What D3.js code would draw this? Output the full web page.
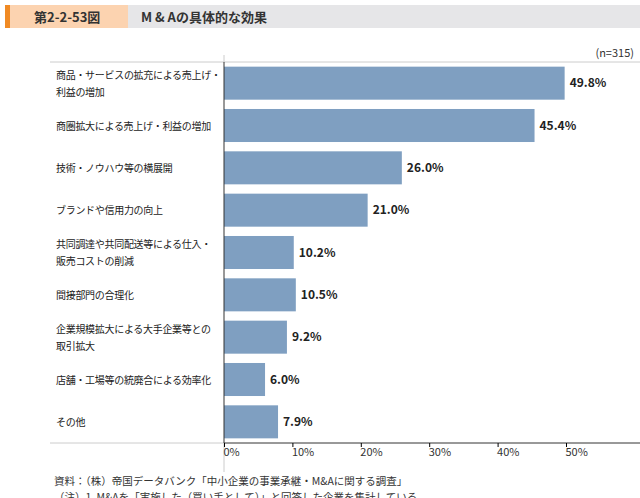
<!DOCTYPE html>
<html><head><meta charset="utf-8">
<script src="https://cdn.jsdelivr.net/npm/d3@7"></script>
<style>body{margin:0;background:#fff;font-family:"Noto Sans CJK JP",sans-serif}</style>
</head><body><svg id="c" width="640" height="498"></svg>
<script>
const categories = ["商品・サービスの拡充による売上げ・\n利益の増加","商圏拡大による売上げ・利益の増加","技術・ノウハウ等の横展開","ブランドや信用力の向上","共同調達や共同配送等による仕入・\n販売コストの削減","間接部門の合理化","企業規模拡大による大手企業等との\n取引拡大","店舗・工場等の統廃合による効率化","その他"];
const values = [49.8,45.4,26.0,21.0,10.2,10.5,9.2,6.0,7.9];
const ticks = [0,10,20,30,40,50];

const svg = d3.select("#c");
// title bar
svg.append("rect").attr("x",5).attr("y",5).attr("width",635).attr("height",23).attr("fill","#e6e6e8");
svg.append("rect").attr("x",5).attr("y",5).attr("width",123).attr("height",23).attr("fill","#fcd3b0");
svg.append("rect").attr("x",5).attr("y",5).attr("width",5).attr("height",23).attr("fill","#f08a24");
svg.append("text").attr("x",34).attr("y",22).attr("font-size",13).attr("font-weight","bold").attr("fill","#333").text("第2-2-53図");
svg.append("text").attr("x",141).attr("y",22).attr("font-size",13).attr("font-weight","bold").attr("fill","#333").text("M & Aの具体的な効果");

const x = d3.scaleLinear().domain([0,50]).range([224,566]);
const y = d3.scaleBand().domain(categories).range([62,443]).paddingInner(0.22).paddingOuter(0.11);

svg.append("line").attr("x1",50).attr("x2",640).attr("y1",62).attr("y2",62).attr("stroke","#ccc");
svg.append("line").attr("x1",50).attr("x2",224).attr("y1",443).attr("y2",443).attr("stroke","#ccc");
svg.append("line").attr("x1",224).attr("x2",224).attr("y1",55).attr("y2",62).attr("stroke","#ccc");
svg.append("line").attr("x1",224).attr("x2",224).attr("y1",443).attr("y2",472).attr("stroke","#ccc");
svg.append("text").attr("x",634).attr("y",57).attr("text-anchor","end").attr("font-size",11).attr("fill","#333").text("(n=315)");

svg.selectAll("rect.bar").data(values).join("rect").attr("class","bar")
  .attr("x",x(0)).attr("y",(d,i)=>y(categories[i])).attr("height",y.bandwidth())
  .attr("width",d=>x(d)-x(0)).attr("fill","#7f9fc1");
svg.selectAll("text.val").data(values).join("text").attr("class","val")
  .attr("x",d=>x(d)+5).attr("y",(d,i)=>y(categories[i])+y.bandwidth()/2+4)
  .attr("font-size",12).attr("font-weight","bold").attr("fill","#222").text(d=>d.toFixed(1)+"%");

categories.forEach(c=>{
  const lines=c.split("\n");
  const cy=y(c)+y.bandwidth()/2;
  lines.forEach((l,j)=>svg.append("text").attr("x",56)
    .attr("y",cy+4+(j-(lines.length-1)/2)*17).attr("font-size",10).attr("letter-spacing",-0.3)
    .attr("fill","#222").text(l));
});

const ax = svg.append("g").attr("transform","translate(0,443)")
  .call(d3.axisBottom(x).tickValues(ticks).tickSize(4).tickFormat(d=>d+"%"));
ax.select(".domain").attr("d","M224,0H640").attr("stroke","#333");
ax.selectAll("text").attr("font-size",11).attr("fill","#333").attr("text-anchor","start").attr("dx",-1).attr("dy",6)
  .attr("font-family","Noto Sans CJK JP");
svg.append("line").attr("x1",224).attr("x2",224).attr("y1",62).attr("y2",443).attr("stroke","#333");

svg.append("text").attr("x",54).attr("y",485).attr("font-size",10.5).attr("fill","#333").text("資料：（株）帝国データバンク「中小企業の事業承継・M&Aに関する調査」");
svg.append("text").attr("x",54).attr("y",501).attr("font-size",10.5).attr("fill","#333").text("（注）1. M&Aを「実施した（買い手として）」と回答した企業を集計している。");
</script></body></html>
